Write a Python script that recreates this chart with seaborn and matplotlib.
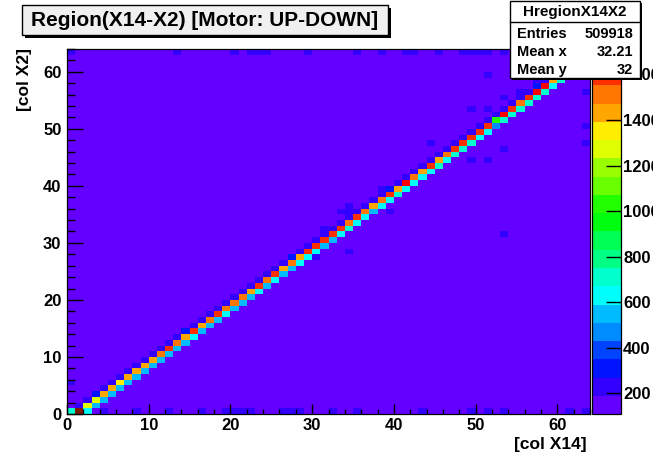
import colorsys
import numpy as np
import pandas as pd
import matplotlib
matplotlib.use("Agg")
import matplotlib.pyplot as plt
import seaborn as sns
from matplotlib.colors import ListedColormap
from matplotlib.patches import Rectangle
from matplotlib.lines import Line2D

# ---------------- data ----------------
N_BINS = 64
BACKGROUND = 140              # typical content of an off-diagonal bin
Z_MIN, Z_MAX = 108, 1712      # colour-scale range

# bright cell of every column c: bin (x=c, y=c-1), c = 1..63
diag_upper = [1850, 1290, 1300, 1440, 1420, 1330, 1450, 1470, 1430, 1460,
              1480, 1610, 1490, 1470, 1620, 1460, 1480, 1630, 1500, 1490,
              1540, 1470, 1600, 1480, 1590, 1470, 1500, 1440, 1620, 1600,
              1580, 1600, 1560, 1500, 1610, 1480, 1460, 1490, 1620, 1470,
              1640, 1480, 1460, 1620, 1470, 1490, 1600, 1620, 1590, 1610,
              1630, 1010, 1640, 1600, 1480, 1620, 1650, 1680, 1460, 1500,
              1600, 1450, 1550]
# cell under it: bin (x=c, y=c-2), c = 2..63
diag_lower = [640, 560, 550, 560, 540, 560, 550, 560, 540, 560,
              570, 550, 560, 620, 560, 570, 560, 640, 570, 560,
              580, 630, 560, 640, 570, 560, 620, 630, 610, 560,
              570, 630, 700, 640, 630, 560, 640, 630, 700, 640,
              630, 640, 650, 710, 640, 700, 720, 710, 640, 630,
              470, 700, 710, 720, 700, 710, 720, 650, 730, 700,
              690, 700]
# cell above it: bin (x=c, y=c), c = 1..63
diag_edge = [230, 250, 290, 240, 230, 260, 250, 230, 240, 260,
             250, 240, 230, 280, 250, 240, 230, 250, 260, 240,
             230, 250, 240, 260, 230, 250, 290, 240, 230, 250,
             260, 240, 250, 230, 240, 260, 250, 230, 280, 240,
             250, 230, 260, 240, 250, 230, 240, 260, 250, 230,
             240, 250, 260, 230, 240, 250, 290, 240, 230, 250,
             260, 240, 250]
# other populated bins
extra_x = [0, 0, 0,
           13, 20, 22, 23, 24, 29, 35, 38, 41, 42, 45, 48, 49, 50, 51, 53,
           4, 8, 12, 16, 19, 20, 21, 22, 26, 27, 28, 32, 35, 43, 49, 51, 53, 61, 63,
           31, 34, 34, 33, 34, 38, 39, 30, 53, 49, 51, 51, 53, 51, 57, 63, 63, 63,
           63, 44, 53, 49, 55]
extra_y = [0, 5, 63,
           63, 63, 63, 63, 63, 63, 63, 63, 63, 63, 63, 63, 63, 63, 63, 63,
           0, 0, 0, 0, 0, 0, 0, 0, 0, 0, 0, 0, 0, 0, 0, 0, 0, 0, 0,
           32, 36, 28, 35, 35, 39, 35, 27, 31, 44, 44, 59, 55, 53, 58, 59, 56, 50,
           47, 47, 46, 53, 56]
extra_v = [720, 220, 230,
           220, 215, 225, 220, 230, 215, 220, 225, 215, 220, 225, 230, 220, 215, 225, 220,
           210, 215, 220, 210, 215, 220, 210, 225, 215, 220, 210, 215, 220, 210, 220, 215, 210, 220, 215,
           215, 220, 210, 215, 220, 225, 215, 210, 220, 215, 220, 225, 210, 215, 220, 215, 210, 220,
           215, 210, 220, 215, 220]

x_ticks = [0, 10, 20, 30, 40, 50, 60]
y_ticks = [0, 10, 20, 30, 40, 50, 60]
cbar_ticks = [200, 400, 600, 800, 1000, 1200, 1400, 1600]

title = "Region(X14-X2) [Motor: UP-DOWN]"
stats_name = "HregionX14X2"
stats_rows = [("Entries", "509918"), ("Mean x", "32.21"), ("Mean y", "32")]
x_label = "[col X14]"
y_label = "[col X2]"

# ---------------- build the 2-D histogram ----------------
Z = np.full((N_BINS, N_BINS), float(BACKGROUND))   # Z[y, x]
for c, v in enumerate(diag_upper, start=1):
    Z[c - 1, c] = v
for c, v in enumerate(diag_lower, start=2):
    Z[c - 2, c] = v
for c, v in enumerate(diag_edge, start=1):
    Z[c, c] = v
for x, y, v in zip(extra_x, extra_y, extra_v):
    Z[y, x] = v
df = pd.DataFrame(Z, index=range(N_BINS), columns=range(N_BINS))

# ROOT "pretty palette" sampled on 20 contour levels
n_levels = 20
colors = []
for k in range(n_levels):
    idx = int((k + 0.99) * 50 / n_levels)
    hue = 280 - (idx + 1) * 280 / 50
    colors.append(colorsys.hls_to_rgb(hue / 360.0, 0.5, 1.0))
cmap = ListedColormap(colors)
cmap.set_over("#7a1a06")

# ---------------- figure ----------------
W, H = 653, 457
plt.rcParams["font.family"] = ["Liberation Sans", "DejaVu Sans"]
plt.rcParams["font.weight"] = "bold"
fig = plt.figure(figsize=(W / 100, H / 100), dpi=100)
fig.patch.set_facecolor("white")

def fx(px):
    return px / W

def fy(py):
    return 1 - py / H

L, R, T, B = 67, 590, 49, 414
ax = fig.add_axes([fx(L), fy(B), (R - L) / W, (B - T) / H])
cax = fig.add_axes([fx(592), fy(B), 29 / W, (B - T) / H])

sns.heatmap(df, ax=ax, cmap=cmap, vmin=Z_MIN, vmax=Z_MAX, cbar=True,
            cbar_ax=cax, xticklabels=False, yticklabels=False)
ax.set_xlim(0, N_BINS)
ax.set_ylim(0, N_BINS)
ax.set_axisbelow(False)
for s in ax.spines.values():
    s.set_visible(True)
    s.set_color("black")
    s.set_linewidth(0.9)

ax.set_xticks(x_ticks)
ax.set_xticklabels([str(t) for t in x_ticks], fontsize=12, fontweight="bold")
ax.set_yticks(y_ticks)
ax.set_yticklabels([str(t) for t in y_ticks], fontsize=12, fontweight="bold")
ax.set_xticks(np.arange(0, N_BINS + 1, 2), minor=True)
ax.set_yticks(np.arange(0, N_BINS + 1, 2), minor=True)
ax.tick_params(axis="both", which="both", direction="in", color="black",
               width=1, top=False, right=False)
ax.tick_params(axis="x", which="major", length=7.5, pad=3)
ax.tick_params(axis="x", which="minor", length=3.8)
ax.tick_params(axis="y", which="major", length=11.5, pad=4)
ax.tick_params(axis="y", which="minor", length=5.8)
ax.set_xlabel("")
ax.set_ylabel("")

fig.text(fx(587), fy(444), x_label, ha="right", va="center",
         fontsize=12.5, fontweight="bold")
fig.text(fx(25), fy(48), y_label, ha="center", va="top", rotation=90,
         fontsize=12.5, fontweight="bold")

cbar = ax.collections[0].colorbar
cbar.set_ticks(cbar_ticks)
cbar.set_ticklabels([str(t) for t in cbar_ticks])
cax.tick_params(axis="y", direction="in", length=11, width=1, color="black",
                labelsize=12, pad=1.5, right=True, left=False)
for lab in cax.get_yticklabels():
    lab.set_fontweight("bold")
cax.minorticks_off()
cbar.outline.set_linewidth(0.9)
cbar.outline.set_edgecolor("black")

# ---------------- title box ----------------
def box(x0, y0, x1, y1, face, shadow=3):
    fig.add_artist(Rectangle((fx(x0 + shadow), fy(y1 + shadow)),
                             (x1 - x0) / W, (y1 - y0) / H,
                             transform=fig.transFigure, facecolor="black",
                             edgecolor="black", lw=0, zorder=9))
    fig.add_artist(Rectangle((fx(x0), fy(y1)), (x1 - x0) / W, (y1 - y0) / H,
                             transform=fig.transFigure, facecolor=face,
                             edgecolor="black", lw=1, zorder=10))

box(22, 5, 388, 35, "#f0f0f0")
fig.text(fx(205), fy(20), title, ha="center", va="center", fontsize=15,
         fontweight="bold", zorder=11)

# ---------------- stats box ----------------
box(510, 1, 640, 78, "white", shadow=2)
fig.text(fx(575), fy(12), stats_name, ha="center", va="center",
         fontsize=11, fontweight="bold", zorder=11)
fig.add_artist(Line2D([fx(510), fx(640)], [fy(22), fy(22)],
                      transform=fig.transFigure, color="black", lw=1, zorder=11))
for i, (k, v) in enumerate(stats_rows):
    yy = 34 + 18 * i
    fig.text(fx(517), fy(yy), k, ha="left", va="center", fontsize=10.5,
             fontweight="bold", zorder=11)
    fig.text(fx(633), fy(yy), v, ha="right", va="center", fontsize=10.5,
             fontweight="bold", zorder=11)

fig.savefig("out.png", dpi=100)
